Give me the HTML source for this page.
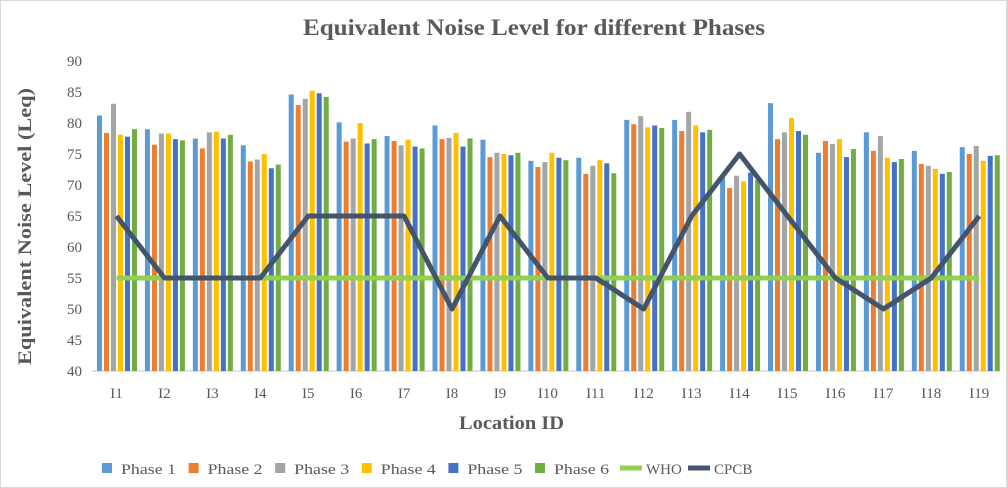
<!DOCTYPE html>
<html><head><meta charset="utf-8"><style>body{margin:0;background:#fff}svg{display:block}text{font-family:"Liberation Serif",serif}</style></head><body>
<svg id="s" width="1007" height="488" xmlns="http://www.w3.org/2000/svg">
<rect x="0.5" y="0.5" width="1006" height="487" fill="#fff" stroke="#d9d9d9"/>
<text x="303" y="35" font-size="23" font-weight="bold" fill="#595959" textLength="462" lengthAdjust="spacingAndGlyphs">Equivalent Noise Level for different Phases</text>
<g id="yl" font-size="15" fill="#595959" text-anchor="end"></g>
<line x1="92" y1="371" x2="1000" y2="371" stroke="#d9d9d9" stroke-width="1.5"/>
<g id="bars"></g>
<g id="xl" font-size="15" fill="#595959" text-anchor="middle"></g>
<text transform="translate(31,365) rotate(-90)" font-size="19" font-weight="bold" fill="#595959" textLength="277" lengthAdjust="spacingAndGlyphs">Equivalent Noise Level (Leq)</text>
<text x="459" y="429" font-size="19" font-weight="bold" fill="#595959" textLength="105" lengthAdjust="spacingAndGlyphs">Location ID</text>
<g id="lg" font-size="15" fill="#595959"></g>
</svg>
<script>
const NS="http://www.w3.org/2000/svg";
function el(p,t,a,txt){const e=document.createElementNS(NS,t);for(const k in a)e.setAttribute(k,a[k]);if(txt!=null)e.textContent=txt;document.getElementById(p).appendChild(e);return e;}
const Y=v=>371-(v-40)*6.2;
for(let v=40;v<=90;v+=5)el('yl','text',{x:82,y:Y(v)+5},v);
const C=['#5b9bd5','#ed7d31','#a5a5a5','#ffc000','#4472c4','#70ad47'];
const D=[[81.2,78.4,83.1,78.1,77.8,79],[79,76.5,78.3,78.3,77.4,77.2],[77.5,75.9,78.5,78.6,77.5,78.1],[76.4,73.8,74.1,75,72.7,73.3],[84.6,82.9,83.9,85.2,84.8,84.2],[80.1,77,77.5,80,76.7,77.4],[77.9,77.1,76.4,77.3,76.2,75.9],[79.6,77.4,77.6,78.4,76.2,77.5],[77.3,74.5,75.2,75,74.8,75.2],[73.9,72.9,73.7,75.2,74.4,74],[74.4,71.8,73.1,74,73.5,71.9],[80.5,79.8,81.1,79.3,79.6,79.2],[80.5,78.7,81.8,79.6,78.5,78.9],[71.2,69.5,71.5,70.6,72,70.8],[83.2,77.4,78.5,80.8,78.7,78.1],[75.2,77.1,76.6,77.4,74.5,75.8],[78.5,75.5,77.9,74.4,73.7,74.2],[75.5,73.4,73.1,72.6,71.8,72.1],[76.1,75,76.3,73.9,74.7,74.8]];
const CP=[65,55,55,55,65,65,65,50,65,55,55,50,65,75,65,55,50,55,65];
const cx=i=>116.5+i*47.93;
D.forEach((g,i)=>{g.forEach((v,j)=>el('bars','rect',{x:cx(i)-19.5+j*7,y:Y(v),width:5,height:371-Y(v),fill:C[j]}));el('xl','text',{x:cx(i),y:398},'I'+(i+1));});
el('bars','line',{x1:cx(0),y1:Y(55),x2:cx(18),y2:Y(55),stroke:'#92d050','stroke-width':5});
el('bars','polyline',{points:CP.map((v,i)=>cx(i)+','+Y(v)).join(' '),fill:'none',stroke:'#44546a','stroke-width':5,'stroke-linejoin':'round'});
const L=['Phase 1','Phase 2','Phase 3','Phase 4','Phase 5','Phase 6'];
L.forEach((t,j)=>{const x=102+j*86.6;el('lg','rect',{x:x,y:463,width:10,height:10,fill:C[j]});el('lg','text',{x:x+19,y:474,textLength:55,lengthAdjust:'spacingAndGlyphs'},t);});
el('lg','line',{x1:620,y1:468,x2:642,y2:468,stroke:'#92d050','stroke-width':5});el('lg','text',{x:646,y:474},'WHO');
el('lg','line',{x1:688,y1:468,x2:710,y2:468,stroke:'#44546a','stroke-width':5});el('lg','text',{x:714,y:474},'CPCB');
</script>
</body></html>
